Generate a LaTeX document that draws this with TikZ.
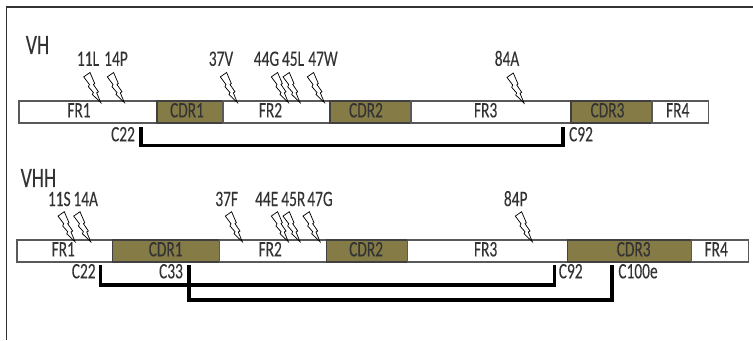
\documentclass[tikz,border=0pt]{standalone}
\usepackage{fontspec}
\setmainfont[FakeStretch=0.7,FakeBold=0.15]{Carlito}
\usetikzlibrary{positioning}

\definecolor{cdrolive}{HTML}{857B47}
\definecolor{inkgrey}{HTML}{333333}

\begin{document}
\begin{tikzpicture}[
  x=0.75pt, y=-0.75pt,
  node distance=0pt,
  seg/.style={minimum height=16.5pt, inner sep=0pt, outer sep=0pt, line width=0.8pt},
  fr/.style={seg, draw=black!65, fill=white},
  cdr/.style={seg, draw=black!75, fill=cdrolive},
  every label/.style={font=\fontsize{16.5}{16.5}\selectfont, text=inkgrey, inner sep=0pt, text height=8pt, text depth=0pt},
  res/.style={font=\fontsize{16.5}{16.5}\selectfont, text=inkgrey, inner sep=0pt, text height=8pt, text depth=0pt},
  chain/.style={font=\fontsize{21}{21}\selectfont, text=inkgrey, inner sep=0pt},
  bond/.style={line width=2.4pt, line cap=butt, line join=miter},
  bolt/.pic={
    \draw[line width=0.55pt, fill=white, line join=miter]
      (-17,-25.6) -- (-10.7,-30) -- (-6,-19) -- (-7.3,-18) -- (-2.3,-10.7) -- (-4,-9.7)
      -- (0,0) -- (-8.3,-8) -- (-7.3,-10) -- (-12.3,-15.7) -- (-11.3,-18) -- cycle;
  }
]
\useasboundingbox (0,0) rectangle (753,340);
\draw[line width=0.8pt, inkgrey] (753,7) -- (6.5,7) -- (6.5,340);

% upper chain
\node[chain] (vh) at (37.5,45) {VH};
\node[fr, anchor=west, minimum width=103.5pt, label={[xshift=-6.75pt]center:FR1}] (vhfr1) at (19,112) {};
\node[cdr, right=of vhfr1, minimum width=49.5pt, label={[xshift=-2.25pt]center:CDR1}] (vhcdr1) {};
\node[fr, right=of vhcdr1, minimum width=80.25pt, label={[xshift=-4.5pt]center:FR2}] (vhfr2) {};
\node[cdr, right=of vhfr2, minimum width=60.75pt, label={[xshift=-3.4pt]center:CDR2}] (vhcdr2) {};
\node[fr, right=of vhcdr2, minimum width=120pt, label={[xshift=-4pt]center:FR3}] (vhfr3) {};
\node[cdr, right=of vhfr3, minimum width=60.75pt, label={[xshift=-3pt]center:CDR3}] (vhcdr3) {};
\node[fr, right=of vhcdr3, minimum width=42.4pt, label={[xshift=-1.9pt]center:FR4}] (vhfr4) {};

\node[res] (vh11) at (88,60.5) {11L};
\node[res] (vh14) at (116,60.5) {14P};
\node[res] (vh37) at (221,60.5) {37V};
\node[res] (vh44) at (266.5,60.5) {44G};
\node[res] (vh45) at (293,60.5) {45L};
\node[res] (vh47) at (323,60.5) {47W};
\node[res] (vh84) at (507,60.5) {84A};

\pic at (100.7,102.5) {bolt};
\pic at (124.3,102.5) {bolt};
\pic at (237.3,102.5) {bolt};
\pic at (288.3,102.5) {bolt};
\pic at (300,102.5) {bolt};
\pic at (324.3,102.5) {bolt};
\pic at (524,103) {bolt};

\node[res] (vhc22) at (123,136) {C22};
\node[res] (vhc92) at (581,136) {C92};
\coordinate (vhc22end) at (141,127);
\coordinate (vhc92end) at (563,127);
\draw[bond] (vhc22end) -- ++(0,18.5) -| (vhc92end);

% lower chain
\node[chain] (vhh) at (38.5,178) {VHH};
\node[fr, anchor=west, minimum width=71.6pt, label={[xshift=-1.1pt]center:FR1}] (vhhfr1) at (17,251) {};
\node[cdr, right=of vhhfr1, minimum width=80.6pt, label={[xshift=-0.4pt]center:CDR1}] (vhhcdr1) {};
\node[fr, right=of vhhcdr1, minimum width=79.9pt, label={[xshift=-2.25pt]center:FR2}] (vhhfr2) {};
\node[cdr, right=of vhhfr2, minimum width=61.1pt, label={[xshift=-0.8pt]center:CDR2}] (vhhcdr2) {};
\node[fr, right=of vhhcdr2, minimum width=119.6pt, label={[xshift=-1.5pt]center:FR3}] (vhhfr3) {};
\node[cdr, right=of vhhfr3, minimum width=93.4pt, label={[xshift=3pt]center:CDR3}] (vhhcdr3) {};
\node[fr, right=of vhhcdr3, minimum width=42.4pt, label={[xshift=-3pt]center:FR4}] (vhhfr4) {};

\node[res] (vhh11) at (59.3,200.7) {11S};
\node[res] (vhh14) at (85.7,200.7) {14A};
\node[res] (vhh37) at (226.7,200.7) {37F};
\node[res] (vhh44) at (266.7,200.7) {44E};
\node[res] (vhh45) at (293.3,200.7) {45R};
\node[res] (vhh47) at (320,200.7) {47G};
\node[res] (vhh84) at (515.7,200.7) {84P};

\pic at (75,241.7) {bolt};
\pic at (90.7,241.7) {bolt};
\pic at (242.3,241.7) {bolt};
\pic at (288.3,241.7) {bolt};
\pic at (300,241.7) {bolt};
\pic at (320,241.7) {bolt};
\pic at (532.3,241.7) {bolt};

\node[res] (vhhc22) at (83.7,273) {C22};
\node[res] (vhhc33) at (171,273) {C33};
\node[res] (vhhc92) at (570.7,273) {C92};
\node[res] (vhhc100) at (638,273) {C100e};
\coordinate (vhhc22end) at (100.5,265);
\coordinate (vhhc92end) at (554.7,265);
\coordinate (vhhc33end) at (189,265);
\coordinate (vhhc100end) at (612,265);
\draw[bond] (vhhc22end) -- ++(0,20) -| (vhhc92end);
\draw[bond] (vhhc33end) -- ++(0,35) -| (vhhc100end);
\end{tikzpicture}
\end{document}
